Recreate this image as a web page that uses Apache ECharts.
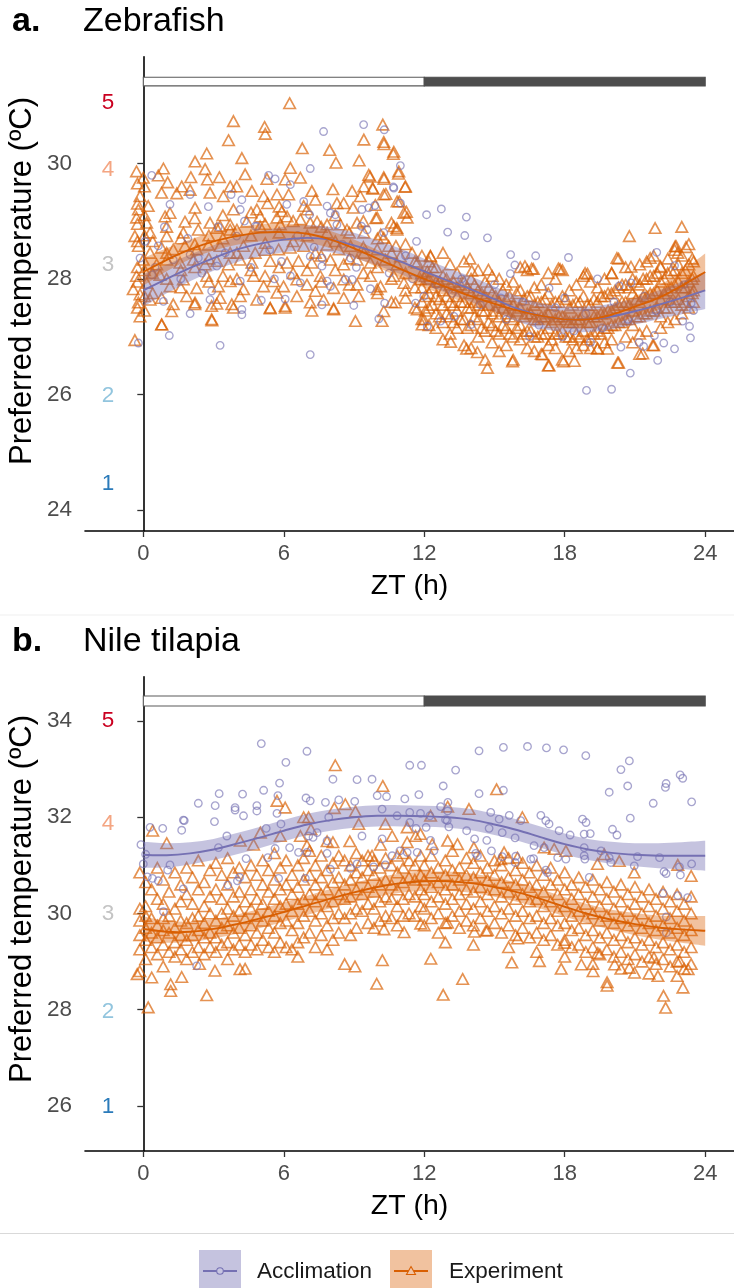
<!DOCTYPE html>
<html>
<head>
<meta charset="utf-8">
<title>Preferred temperature across the day</title>
<script src="https://cdn.jsdelivr.net/npm/echarts@6/dist/echarts.min.js"></script>
<style>
  html, body { margin: 0; padding: 0; background: #ffffff; }
  #chart { width: 734px; height: 1288px; }
</style>
</head>
<body>
<div id="chart"></div>
<script>
// ---------------------------------------------------------------
// Data: ZT (h) vs preferred temperature (ºC)
// Point groups are written as [ZT, temp, temp, ...]
// ---------------------------------------------------------------
const xTicks = [0, 6, 12, 18, 24];
const zfTicks = [24, 26, 28, 30];
const ntTicks = [26, 28, 30, 32, 34];
const fitHours = [0,1,2,3,4,5,6,7,8,9,10,11,12,13,14,15,16,17,18,19,20,21,22,23,24];
const photoPhases = [[0, 12], [12, 24]];          // light, dark
const chamberNames = ['1', '2', '3', '4', '5'];
const zfChamberTemp = [24.45, 25.97, 28.25, 29.88, 31.04];
const ntChamberTemp = [25.98, 27.95, 29.99, 31.87, 34.0];

// Zebrafish – smooth fits and their confidence half-widths
const zfAccFit = [27.8,28.0,28.19,28.36,28.51,28.61,28.68,28.71,28.68,28.58,28.45,28.3,28.13,27.97,27.82,27.65,27.48,27.36,27.3,27.3,27.35,27.44,27.55,27.67,27.8];
const zfAccSe  = [0.28,0.25,0.23,0.22,0.22,0.22,0.22,0.22,0.22,0.22,0.22,0.22,0.22,0.22,0.22,0.22,0.22,0.22,0.22,0.22,0.22,0.23,0.25,0.28,0.32];
const zfExpFit = [28.12,28.33,28.51,28.65,28.74,28.8,28.81,28.78,28.68,28.53,28.35,28.17,28.0,27.85,27.7,27.57,27.45,27.36,27.3,27.3,27.38,27.52,27.67,27.88,28.12];
const zfExpSe  = [0.24,0.2,0.17,0.16,0.15,0.15,0.15,0.15,0.15,0.15,0.15,0.15,0.15,0.15,0.15,0.15,0.15,0.15,0.15,0.15,0.16,0.18,0.21,0.26,0.32];

// Nile tilapia – smooth fits and their confidence half-widths
const ntAccFit = [31.22,31.21,31.25,31.33,31.45,31.58,31.72,31.85,31.94,32.0,32.03,32.03,32.02,32.0,31.95,31.85,31.73,31.58,31.44,31.33,31.26,31.22,31.2,31.2,31.2];
const ntAccSe  = [0.27,0.25,0.23,0.22,0.22,0.22,0.22,0.22,0.22,0.22,0.22,0.22,0.22,0.22,0.22,0.22,0.22,0.22,0.22,0.22,0.23,0.24,0.26,0.28,0.31];
const ntExpFit = [29.68,29.62,29.62,29.68,29.78,29.9,30.03,30.17,30.31,30.44,30.55,30.63,30.67,30.67,30.63,30.55,30.44,30.3,30.14,29.99,29.87,29.78,29.71,29.67,29.64];
const ntExpSe  = [0.26,0.23,0.21,0.2,0.2,0.2,0.2,0.2,0.2,0.2,0.2,0.2,0.2,0.2,0.2,0.2,0.2,0.2,0.2,0.2,0.21,0.23,0.25,0.28,0.31];

// Zebrafish – acclimation observations
const zfAcclimation = [
  [0.36,29.79],[1.14,29.29],[2.0,29.46],[2.78,29.25],[3.75,29.46],[4.14,29.2],[4.32,29.0],[4.78,28.91],[5.35,29.79],[5.63,29.73],
  [6.28,29.63],[7.13,29.91],[6.85,29.34],[7.85,29.26],[7.99,29.14],[9.34,29.2],[9.63,29.23],[9.89,29.27],[10.98,29.96],[10.7,29.57],
  [10.98,29.31],[12.1,29.11],[11.67,28.65],[9.32,28.91],[8.27,28.94],[7.1,29.11],[6.13,29.29],[0.07,28.65],[0.64,28.57],[-0.14,28.36],
  [0.36,28.07],[2.35,28.36],[3.14,28.22],[3.99,28.74],[4.14,27.96],[2.92,27.79],[2.85,27.64],[0.86,27.61],[2.0,27.4],[1.11,27.02],
  [-0.21,26.89],[3.28,26.85],[4.21,27.47],[4.21,27.38],[5.04,27.63],[6.06,27.65],[6.28,28.05],[6.71,27.93],[7.13,26.69],[7.63,28.22],
  [7.63,27.55],[7.85,27.96],[7.99,27.87],[8.63,27.99],[8.92,27.99],[9.7,27.83],[8.99,27.54],[10.06,27.31],[10.31,27.58],[11.63,27.58],
  [11.98,27.7],[7.13,28.39],[7.63,28.36],[8.85,28.36],[9.56,28.85],[8.2,29.11],[10.27,28.8],[2.0,28.42],[1.28,28.33],[4.85,28.91],
  [4.21,29.37],[7.7,30.55],[9.41,30.67],[10.29,30.58],[10.68,29.59],[0.5,28.2],[1.6,28.0],[2.5,28.1],[3.5,28.45],[4.6,28.2],
  [5.4,28.5],[5.9,28.3],[6.6,28.75],[7.3,28.55],[8.5,28.6],[9.1,28.2],[10.5,28.1],[11.2,28.4],[11.5,28.0],[1.9,28.7],
  [3.2,28.9],[5.6,28.0],[0.9,28.9],
  [12.73,29.21],[13.8,29.07],[13.0,28.81],[13.73,28.75],[14.7,28.71],[15.69,28.42],[16.76,28.4],[15.87,28.24],[15.68,28.09],[18.16,28.37],
  [19.4,28.0],[21.93,28.46],[22.69,28.23],[20.83,27.93],[23.4,27.58],[23.33,27.18],[23.37,26.98],[23.04,27.27],[22.69,26.79],[21.97,26.59],
  [22.23,26.89],[21.83,27.02],[21.37,26.83],[21.18,26.9],[20.8,26.37],[18.93,26.07],[20.0,26.09],[20.4,26.82],[20.33,27.88],[18.0,27.67],
  [17.33,27.84],[14.0,27.21],[13.27,27.35],[12.7,27.27],[12.13,27.18],[15.27,27.67],[12.5,27.9],[13.2,27.75],[13.6,28.0],[14.4,27.55],
  [15.0,27.9],[15.5,27.3],[16.2,27.6],[16.9,27.2],[17.6,27.5],[18.4,27.1],[18.9,27.4],[19.6,27.15],[20.1,27.6],[20.7,27.3],
  [21.4,27.7],[21.9,27.45],[22.5,27.6],[23.1,27.9],[23.5,27.45],[16.5,27.0],[17.9,27.0],[19.1,26.9]
];

// Zebrafish – experiment observations
const zfExperiment = [
  [6.25,31.04],[3.85,30.73],[5.18,30.63],[5.21,30.51],[3.64,30.4],[9.42,30.41],[10.23,30.67],[10.27,30.37],[10.7,30.2],[6.79,30.26],
  [7.96,30.23],[2.71,30.17],[4.21,30.09],[8.23,30.01],[9.22,30.05],[2.21,30.03],[10.91,29.86],[-0.29,29.86],[0.86,29.91],[6.28,29.92],
  [2.64,29.9],[9.63,29.8],[10.28,30.33],[10.68,30.16],[9.69,29.77],[10.28,29.73],[10.9,29.82],[9.79,29.57],[10.36,29.47],[11.18,29.59],
  [10.93,29.34],[11.24,29.16],[9.93,29.05],[10.6,28.97],[10.83,28.88],[10.14,28.77],[10.79,28.57],
  [0.0,29.75],[0.64,29.79],[1.04,29.67],[1.64,29.6],[2.03,29.76],[2.74,29.72],[3.25,29.76],[3.71,29.6],[3.99,29.6],[4.35,29.81],
  [5.28,29.73],[6.06,29.72],[6.71,29.75],[7.2,29.52],[8.1,29.55],[8.92,29.52],[9.42,29.6],[9.81,29.56],[10.27,29.76],[11.2,29.6],
  [-0.14,29.43],[0.78,29.49],[1.43,29.48],[2.0,29.54],[2.85,29.49],[3.42,29.43],[4.64,29.52],[5.14,29.43],[5.71,29.46],[6.21,29.46],
  [7.35,29.37],[8.56,29.31],[9.27,29.43],[10.27,29.46],[10.84,29.34],
  [-0.21,29.2],[0.21,29.26],[1.14,29.14],[2.21,29.23],[3.85,29.2],[4.85,29.2],[5.31,29.31],[5.92,29.17],[6.85,29.26],[8.27,29.31],
  [8.96,29.23],[9.91,29.28],[11.13,29.14],
  [-0.29,29.06],[0.14,28.97],[0.93,29.08],[1.78,28.99],[2.85,28.97],[3.28,28.91],[3.71,28.94],[4.42,28.99],[4.99,29.08],[5.71,29.06],
  [6.14,29.08],[6.71,29.03],[7.42,28.99],[7.85,28.94],[8.42,28.94],[9.13,28.97],[9.99,29.06],[10.7,28.91],[11.27,29.06],
  [-0.36,28.74],[0.29,28.8],[1.0,28.74],[1.71,28.8],[2.35,28.85],[3.14,28.88],[3.71,28.85],[4.99,28.91],[5.85,28.94],[7.13,28.97],
  [7.85,28.8],[8.7,28.85],[9.42,28.8],[10.27,28.71],[10.84,28.85],
  [-0.21,28.57],[0.29,28.45],[0.78,28.54],[1.28,28.51],[1.78,28.57],[2.28,28.51],[2.78,28.59],[3.28,28.57],[3.71,28.45],[4.28,28.57],
  [4.78,28.45],[5.21,28.62],[5.78,28.51],[6.28,28.54],[6.85,28.57],[7.35,28.45],[7.85,28.59],[8.35,28.51],[8.85,28.57],[9.42,28.45],
  [9.99,28.51],[10.48,28.57],[10.98,28.39],[11.48,28.45],
  [0.0,28.33],[0.57,28.25],[1.0,28.33],[1.57,28.28],[2.14,28.33],[2.64,28.25],[3.14,28.31],[3.64,28.25],[4.14,28.33],[4.64,28.28],
  [5.42,28.31],[6.14,28.28],[6.63,28.31],[7.2,28.28],[7.99,28.33],[8.56,28.25],[9.13,28.33],[9.7,28.28],[10.34,28.33],[10.84,28.25],
  [11.7,28.28],
  [-0.29,28.05],[0.14,27.93],[0.71,28.07],[1.14,27.87],[1.71,27.99],[2.28,27.84],[2.71,28.05],[3.21,27.87],[3.71,27.96],[4.28,27.82],
  [4.71,28.05],[5.14,27.87],[5.56,27.96],[5.99,27.87],[6.56,27.99],[6.99,27.9],[7.56,28.05],[8.13,27.84],[8.56,27.99],[9.13,27.9],
  [9.7,28.05],[10.13,27.87],[10.7,28.05],[11.13,27.93],[11.84,27.99],[12.13,28.13],[-0.43,27.82],
  [-0.14,27.73],[-0.21,27.59],[0.29,27.64],[0.78,27.67],[1.28,27.56],[1.85,27.7],[2.21,27.59],[2.92,27.53],[3.28,27.67],[3.78,27.56],
  [4.14,27.7],[4.85,27.64],[5.42,27.5],[5.71,27.76],[6.06,27.53],[6.56,27.7],[7.13,27.59],[7.35,27.79],[7.7,27.64],[8.13,27.49],
  [8.56,27.67],[9.2,27.7],[9.99,27.82],[10.27,27.44],[10.77,27.59],[11.2,27.67],[11.7,27.47],[11.98,27.3],[11.91,27.21],[-0.14,27.35],
  [0.78,27.21],[1.21,27.44],[2.92,27.3],[9.06,27.27],[10.2,27.27],[-0.36,26.94],[0.79,27.21],[2.93,27.28],[5.42,27.49],[6.06,27.5],
  [7.2,27.45],[8.13,27.47],[3.85,27.5],[2.2,27.56],[3.14,27.57],
  [-0.25,29.65,29.3,28.95,28.65,28.2,27.95,27.5],[0.05,29.6,29.1,28.75,28.15,27.7,27.45],
  [0.4,28.65,28.1,27.75],[1.0,28.9,28.45,28.0],[1.6,28.7,28.15,27.85],[2.2,29.05,28.6,28.2],[2.8,28.75,28.35,27.95],
  [3.4,29.1,28.7,28.05],[4.0,28.85,28.45,28.0],[4.6,29.15,28.75,28.15],[5.2,28.95,28.5,28.05],[5.8,29.25,28.8,28.2],
  [6.4,29.0,28.65,28.1],[7.0,29.2,28.75,28.15],[7.6,28.9,28.4,27.95],[8.2,29.1,28.65,28.15],[8.8,28.8,28.35,27.9],
  [9.4,29.0,28.55,28.1],[10.0,28.7,28.2,27.75],[10.6,28.45,28.0,27.6],[11.2,28.6,28.1,27.8],[11.6,28.3,27.85,27.5],
  [11.9,28.4,28.1,27.85,27.6,27.3],[12.2,28.3,28.0,27.75,27.5,27.2],[12.5,28.2,27.95,27.7,27.4,27.15],[12.8,28.45,28.05,27.8,27.55,27.25,26.95],
  [13.1,28.25,27.9,27.6,27.35,27.05],[13.4,28.1,27.85,27.7,27.45,27.15],[13.7,28.3,27.95,27.6,27.3,26.85],[14.0,28.0,27.75,27.5,27.2,26.8],
  [14.3,28.15,27.8,27.55,27.3,27.0],[14.6,27.95,27.7,27.45,27.1,26.6],[14.9,28.05,27.75,27.4,27.2,26.9],[15.2,28.0,27.6,27.35,27.05,26.75],
  [15.5,27.9,27.65,27.4,27.15,26.85],[15.8,27.95,27.55,27.3,27.0,26.6],[16.1,28.2,27.8,27.5,27.2,26.95],[16.4,28.15,27.7,27.4,27.1,26.8],
  [16.7,27.85,27.55,27.3,27.0,26.75],[17.0,27.9,27.6,27.35,27.05,26.7],[17.3,28.1,27.75,27.4,27.15,26.85,26.5],[17.6,28.0,27.6,27.3,27.05,26.8],
  [17.9,28.15,27.7,27.35,27.1,26.6],[18.2,27.8,27.5,27.25,27.0,26.75],[18.5,27.9,27.6,27.3,27.05,26.8],[18.8,28.05,27.7,27.4,27.1,26.85],
  [19.1,27.95,27.55,27.25,27.0,26.8],[19.4,27.85,27.6,27.35,27.1,26.8],[19.7,28.0,27.7,27.4,27.15,26.9],[20.0,28.1,27.75,27.45,27.2,26.95],
  [20.3,28.35,27.85,27.55,27.25,26.55],[20.6,28.2,27.9,27.6,27.3,27.0],[20.9,28.0,27.75,27.45,27.2,26.9],[21.2,28.25,27.9,27.6,27.35,27.05,26.7],
  [21.5,28.3,28.0,27.7,27.4,27.1],[21.8,28.4,28.05,27.75,27.45,26.85],[22.1,28.2,27.95,27.65,27.35,27.15],[22.4,28.35,28.1,27.8,27.5,27.25],
  [22.7,28.5,28.15,27.9,27.6,27.3],[23.0,28.4,28.1,27.85,27.55,27.4],[23.3,28.6,28.25,27.95,27.7,27.5],[23.5,28.3,28.05,27.8,27.6],
  [12.05,28.05,27.7,27.45],[12.35,28.2,27.85,27.55],[12.65,27.95,27.65,27.35],[12.95,28.0,27.7,27.4],[13.25,27.95,27.55,27.25],
  [13.55,27.9,27.6,27.3],[13.85,27.85,27.5,27.15],[14.15,27.9,27.6,27.35],[14.45,27.75,27.45,27.15],[14.75,27.85,27.55,27.25],
  [15.05,27.7,27.45,27.1],[15.35,27.8,27.5,27.2],[15.65,27.7,27.35,27.05],[15.95,27.75,27.45,27.15],[16.25,27.65,27.35,27.05],
  [16.55,27.7,27.4,27.1],[16.85,27.6,27.3,27.0],[17.15,27.65,27.35,27.05],[17.45,27.55,27.25,26.95],[17.75,27.6,27.35,27.05],
  [18.05,27.65,27.3,27.0],[18.35,27.55,27.25,26.95],[18.65,27.6,27.3,27.0],[18.95,27.55,27.25,26.95],[19.25,27.65,27.35,27.05],
  [19.55,27.7,27.4,27.05],[19.85,27.75,27.45,27.15],[20.15,27.8,27.5,27.2],[20.45,27.9,27.6,27.25],[20.75,27.85,27.55,27.3],
  [21.05,27.95,27.65,27.35],[21.35,28.0,27.7,27.4],[21.65,28.05,27.75,27.45],[21.95,28.1,27.8,27.5],[22.25,28.0,27.75,27.5],
  [22.55,28.15,27.85,27.6],[22.85,28.25,27.95,27.65],[23.15,28.15,27.85,27.6],[23.45,28.35,28.0,27.75],
  [20.76,28.74],[21.86,28.88],[23.0,28.9],[22.75,28.57],[23.18,28.55],[21.65,28.36],[20.23,28.36],[20.83,28.21],[13.95,28.35],[12.27,28.39],
  [16.3,28.22],[16.66,28.17],[17.8,28.17],[18.97,28.09],[14.7,26.46],[15.77,26.57],[17.33,26.5],[17.95,26.57],[18.41,26.58],[20.26,26.55],
  [14.27,26.73],[13.81,26.79],[13.13,26.91],[21.33,26.71],[21.76,26.85],[17.05,26.69],[19.4,26.79],[19.83,26.79],[12.26,28.4],[14.03,28.14],
  [14.74,28.16],[16.59,28.18],[17.73,28.18],[18.87,28.1],[20.01,28.1],[22.08,28.22],[22.83,28.45],[22.71,28.56]
];

// Nile tilapia – acclimation observations
const ntAcclimation = [
  [5.04,33.53],[6.99,33.37],[6.09,33.14],[11.38,33.08],[11.88,33.08],[8.1,32.79],[9.13,32.78],[9.77,32.79],[5.82,32.71],[5.14,32.56],
  [3.24,32.49],[4.24,32.48],[2.35,32.29],[3.07,32.24],[3.92,32.2],[4.85,32.24],[5.75,32.45],[6.95,32.4],[7.13,32.34],[7.78,32.31],
  [8.35,32.36],[9.03,32.33],[9.99,32.45],[10.39,32.43],[11.17,32.38],[11.77,32.47],[1.71,31.94],[1.75,31.93],[3.04,31.91],[4.28,32.03],
  [4.85,32.13],[5.71,32.08],[3.92,32.15],[0.29,31.79],[0.83,31.77],[1.64,31.73],[5.25,31.77],[5.88,31.86],[7.92,32.0],[10.2,32.17],
  [10.84,32.03],[11.38,32.1],[11.84,32.08],[-0.1,31.43],[0.1,31.23],[0.0,31.03],[1.14,31.01],[1.04,30.9],[0.17,30.76],[0.39,30.73],
  [0.64,30.68],[1.71,30.51],[0.86,30.04],[2.28,28.91],[3.21,31.37],[3.61,30.59],[4.02,30.68],[4.39,31.14],[5.63,31.35],[6.25,31.37],
  [6.63,31.27],[7.06,31.61],[7.25,31.58],[7.85,31.51],[6.99,31.27],[7.85,31.25],[7.42,31.68],[9.34,31.61],[10.2,31.55],[10.63,31.2],
  [10.34,31.01],[9.84,30.97],[9.13,31.03],[8.85,30.94],[7.99,30.92],[6.92,30.73],[5.78,30.73],[5.32,31.16],[3.57,31.61],[4.11,30.75],
  [10.96,31.3],[11.27,31.27],[11.7,31.27],[12.08,31.79],[11.65,31.77],[11.38,31.89],
  [14.34,33.38],[15.38,33.45],[16.41,33.47],[17.22,33.44],[17.95,33.4],[18.9,33.28],[20.76,33.17],[20.4,32.99],[13.34,32.98],[12.81,32.65],
  [14.34,32.49],[15.38,32.56],[20.69,32.65],[19.9,32.52],[22.33,32.7],[22.3,32.62],[22.93,32.88],[23.04,32.81],[21.78,32.29],[23.42,32.32],
  [20.8,31.98],[13.01,32.31],[12.7,32.22],[13.0,32.13],[13.05,31.8],[12.91,31.95],[14.84,32.1],[15.2,31.96],[15.63,32.04],[16.12,31.93],
  [16.98,32.04],[17.19,31.93],[17.33,31.86],[14.77,31.77],[15.33,31.68],[15.88,31.57],[13.81,31.72],[14.15,31.55],[14.67,31.52],[17.76,31.72],
  [18.23,31.63],[18.76,31.96],[18.91,31.89],[19.09,31.66],[18.83,31.65],[20.04,31.75],[20.23,31.63],[16.69,31.41],[17.12,31.37],[15.91,31.19],
  [16.67,31.14],[17.7,31.16],[18.83,31.37],[18.83,31.2],[15.33,31.18],[14.2,31.25],[14.87,31.3],[14.27,31.2],[15.88,31.06],[18.05,31.13],
  [19.9,31.16],[19.97,31.06],[20.97,30.99],[21.11,31.18],[22.05,31.16],[22.24,30.87],[22.33,30.83],[22.94,30.8],[23.42,31.03],[22.9,30.97],
  [17.19,30.9],[17.26,30.85],[19.05,30.75],[19.55,31.3],[18.86,31.13],[22.2,30.42],[22.83,30.37],[23.25,30.33],[22.34,29.93],[22.34,29.6],
  [12.24,32.03],[12.98,31.93],[12.41,31.3],[12.27,31.52],[16.55,31.13]
];

// Nile tilapia – experiment observations
const ntExperiment = [
  [8.2,33.08],[10.23,32.65],[5.71,32.34],[6.06,32.2],[8.16,32.19],[8.63,32.27],[9.06,32.12],[9.2,31.86],[6.85,32.0],[7.06,32.0],
  [5.0,31.68],[5.85,31.61],[4.14,31.51],[4.71,31.43],[7.16,31.75],[6.71,31.61],[6.99,31.41],[8.1,31.48],[8.82,31.5],[10.34,31.86],
  [11.27,31.79],[11.63,31.61],[10.63,31.61],[9.77,31.2],[10.13,31.43],[11.27,31.48],[11.84,31.65],[0.4,31.72],[1.0,31.46],
  [0.21,28.05],[1.17,28.39],[1.17,28.53],[2.71,28.3],[1.64,28.68],[0.36,28.67],[-0.26,28.74],[4.13,28.84],[3.06,28.81],[9.04,28.9],
  [9.97,28.54],[10.21,29.03],[2.4,28.95],[6.6,29.1],[8.6,28.95],
  [-0.15,30.85,30.1,29.85,29.55,29.25,28.8],[0.1,30.65,30.15,29.95,29.7,29.45,29.05],[0.35,30.5,29.9,29.6,29.3],
  [0.6,30.95,30.3,29.75,29.5,29.15],[0.85,30.7,30.2,29.9,29.65,29.35,28.9],[1.1,30.45,29.95,29.6,29.2],
  [1.35,30.85,30.1,29.7,29.4,29.1],[1.6,30.6,30.25,29.85,29.55,29.25],[1.85,30.95,30.4,29.8,29.45,29.05],
  [2.1,30.75,30.2,29.9,29.55,29.2],[2.35,31.1,30.5,29.95,29.65,29.3],[2.6,30.65,30.15,29.8,29.5,29.15],
  [2.85,30.9,30.35,30.0,29.6,29.3],[3.1,31.05,30.5,29.85,29.5,29.2],[3.35,30.8,30.3,30.0,29.7,29.35],
  [3.6,31.15,30.6,30.1,29.75,29.4,29.05],[3.85,30.85,30.35,29.95,29.6,29.25],[4.1,30.95,30.45,30.05,29.7,29.35],
  [4.35,30.75,30.25,29.9,29.55,29.2,28.85],[4.6,31.0,30.5,30.1,29.75,29.35],[4.85,30.8,30.3,29.95,29.6,29.25],
  [5.1,31.1,30.6,30.2,29.85,29.45],[5.35,30.9,30.45,30.05,29.7,29.3],[5.6,31.25,30.7,30.3,29.95,29.6,29.2],
  [5.85,30.95,30.5,30.15,29.8,29.4],[6.1,31.1,30.6,30.2,29.85,29.3],[6.35,30.8,30.4,30.05,29.65,29.25],
  [6.6,31.0,30.55,30.2,29.8,29.4],[6.85,31.15,30.7,30.3,29.95,29.5],[7.1,31.3,30.8,30.4,30.05,29.6],
  [7.35,31.0,30.6,30.25,29.85,29.3],[7.6,31.2,30.75,30.4,30.0,29.55],[7.85,31.5,30.9,30.5,30.15,29.75,29.25],
  [8.1,31.05,30.65,30.25,29.9,29.45],[8.35,31.2,30.75,30.4,30.0,29.6],[8.6,31.1,30.6,30.3,29.9],
  [8.85,31.0,30.7,30.35,30.0,29.55],[9.1,31.25,30.85,30.5,30.1,29.7],[9.35,31.1,30.75,30.4,30.05],
  [9.6,31.2,30.9,30.55,30.2,29.8],[9.85,31.1,30.8,30.45,30.1,29.7],[10.1,30.95,30.6,30.25,29.85],
  [10.35,31.15,30.7,30.35,29.95],[10.6,31.0,30.6,30.3,29.9],[10.85,31.2,30.85,30.5,30.15,29.75],
  [11.1,31.25,30.95,30.65,30.3,29.95],[11.35,31.1,30.75,30.4,30.0],[11.6,31.0,30.7,30.35,29.95],[11.85,31.2,30.8,30.5,30.15],
  [12.0,31.0,30.7,30.4,30.1,29.75],[12.3,31.2,30.85,30.55,30.25,29.9],[12.6,30.95,30.65,30.35,30.0,29.6],
  [12.9,31.1,30.8,30.5,30.2,29.8,29.4],[13.2,31.3,30.9,30.6,30.3,29.95],[13.5,30.95,30.7,30.4,30.05,29.7],
  [13.8,31.15,30.8,30.5,30.2,29.85],[14.1,31.05,30.75,30.45,30.1,29.75,29.35],[14.4,31.2,30.85,30.55,30.25,29.9],
  [14.7,30.95,30.7,30.4,30.05,29.65],[15.0,31.1,30.8,30.5,30.15,29.8],[15.3,31.0,30.65,30.35,30.0,29.6],
  [15.6,31.15,30.75,30.45,30.1,29.75,29.3],[15.9,30.9,30.6,30.3,29.95,29.55],[16.2,31.05,30.7,30.4,30.05,29.7],
  [16.5,30.85,30.55,30.25,29.9,29.5],[16.8,31.0,30.6,30.3,29.95,29.6,29.2],[17.1,30.8,30.45,30.15,29.8,29.45],
  [17.4,30.95,30.6,30.25,29.9,29.55],[17.7,30.7,30.4,30.05,29.75,29.35],[18.0,30.85,30.5,30.15,29.8,29.45,29.1],
  [18.3,30.6,30.3,29.95,29.65,29.3],[18.6,30.75,30.4,30.05,29.7,29.35],[18.9,30.55,30.2,29.9,29.55,29.2],
  [19.2,30.7,30.35,30.0,29.65,29.3,28.95],[19.5,30.5,30.15,29.85,29.5,29.15],[19.8,30.65,30.3,29.95,29.6,29.25],
  [20.1,30.45,30.1,29.8,29.45,29.1],[20.4,30.6,30.25,29.9,29.55,29.2,28.85],[20.7,30.4,30.05,29.75,29.4,29.05],
  [21.0,30.55,30.2,29.85,29.5,29.15],[21.3,30.35,30.0,29.7,29.35,29.0],[21.6,30.5,30.15,29.8,29.45,29.1,28.75],
  [21.9,30.3,29.95,29.65,29.3,28.95],[22.2,30.45,30.1,29.75,29.4,29.05],[22.5,30.25,29.9,29.6,29.25,28.9],
  [22.8,30.4,30.05,29.7,29.35,29.0,28.7],[23.1,30.2,29.85,29.55,29.2,28.85],[23.4,30.35,30.0,29.65,29.3,28.95],
  [12.28,29.06],[12.81,28.31],[13.64,28.64],[15.74,28.98],[16.92,29.01],[17.85,28.85],[18.71,28.94],[19.21,28.8],[19.81,28.5],[19.81,28.57],
  [20.13,28.94],[20.76,28.87],[20.98,28.77],[21.98,28.7],[22.22,28.29],[22.31,28.04],[23.05,28.46],[23.27,28.84],[22.91,29.01],[21.81,29.08],
  [19.41,29.18],[17.99,29.39],[15.99,29.48],[14.64,29.64],[11.14,29.61],[10.28,29.67],[14.14,29.62],[11.85,29.79],[12.99,29.81],
  [15.09,32.58],[12.27,32.03],[13.0,32.22],[13.91,32.17],[16.19,32.0],[18.05,31.3],[19.69,31.23],[22.83,31.01],[23.4,30.78],[20.97,30.85],
  [20.33,31.09],[19.4,31.03],[17.55,31.34],[17.12,31.37],[15.98,31.16],[15.41,31.27],[14.12,31.37],[13.42,31.44],[13.0,31.51],[12.34,31.44],
  [15.27,31.13]
];

// ---------------------------------------------------------------
// Drawing
// ---------------------------------------------------------------
const FONT = '"Liberation Sans", Arial, Helvetica, sans-serif';
const ACC = '#7570B3';
const EXP = '#D95F02';
const ACC_PT = 'rgba(117,112,179,0.8)';
const EXP_PT = 'rgba(217,95,2,0.85)';
const ACC_BAND = 'rgba(117,112,179,0.42)';
const EXP_BAND = 'rgba(217,95,2,0.38)';
const chamberColors = ['#2B7BBA', '#92C5DE', '#C4C4C4', '#F4A582', '#CA0020'];

function toPoints(groups) {
  const out = [];
  groups.forEach(g => { for (let i = 1; i < g.length; i++) out.push([g[0], g[i]]); });
  return out;
}

// Catmull-Rom through screen points, written as cubic Bezier segments
function curveSegments(pts) {
  let d = '';
  for (let i = 0; i < pts.length - 1; i++) {
    const p0 = pts[i - 1] || pts[i], p1 = pts[i], p2 = pts[i + 1], p3 = pts[i + 2] || pts[i + 1];
    const c1 = [p1[0] + (p2[0] - p0[0]) / 6, p1[1] + (p2[1] - p0[1]) / 6];
    const c2 = [p2[0] - (p3[0] - p1[0]) / 6, p2[1] - (p3[1] - p1[1]) / 6];
    d += ' C' + c1[0].toFixed(2) + ' ' + c1[1].toFixed(2) + ' ' + c2[0].toFixed(2) + ' ' + c2[1].toFixed(2) +
         ' ' + p2[0].toFixed(2) + ' ' + p2[1].toFixed(2);
  }
  return d;
}

function axesFor(g, yMin, yMax, yTicks) {
  const x = {
    gridIndex: g, type: 'value', min: -2.49, max: 25.23,
    axisLine: { lineStyle: { color: '#000', width: 1.6 } },
    axisTick: { customValues: xTicks, length: 6, lineStyle: { color: '#333', width: 1.3 } },
    axisLabel: { customValues: xTicks, color: '#4d4d4d', fontSize: 22, fontFamily: FONT, margin: 12 },
    splitLine: { show: false },
    name: 'ZT (h)', nameLocation: 'middle', nameGap: 41,
    nameTextStyle: { color: '#000', fontSize: 28.5, fontFamily: FONT }
  };
  const y = {
    gridIndex: g, type: 'value', min: yMin, max: yMax,
    axisLine: { lineStyle: { color: '#000', width: 1.6 } },
    axisTick: { customValues: yTicks, length: 6, lineStyle: { color: '#333', width: 1.3 } },
    axisLabel: { customValues: yTicks, color: '#4d4d4d', fontSize: 22.5, fontFamily: FONT, margin: 13 },
    splitLine: { show: false }
  };
  return [x, y];
}

// confidence ribbon: fit ± half-width, drawn as one closed smooth path
function bandSeries(g, fit, se, color) {
  return { type: 'custom', xAxisIndex: g, yAxisIndex: g, silent: true, z: 3, data: [0],
    renderItem: (params, api) => {
      const upper = fitHours.map((h, i) => api.coord([h, fit[i] + se[i]]));
      const lower = fitHours.map((h, i) => api.coord([h, fit[i] - se[i]])).reverse();
      const d = 'M' + upper[0][0] + ' ' + upper[0][1] + curveSegments(upper) +
                ' L' + lower[0][0] + ' ' + lower[0][1] + curveSegments(lower) + ' Z';
      return { type: 'path', shape: { pathData: d }, style: { fill: color, stroke: null } };
    } };
}

function fitLine(g, fit, color) {
  return { type: 'custom', xAxisIndex: g, yAxisIndex: g, silent: true, z: 4, data: [0],
    renderItem: (params, api) => {
      const pts = fitHours.map((h, i) => api.coord([h, fit[i]]));
      const d = 'M' + pts[0][0] + ' ' + pts[0][1] + curveSegments(pts);
      return { type: 'path', shape: { pathData: d }, style: { fill: null, stroke: color, lineWidth: 1.9 } };
    } };
}

function pointSeries(g, groups, symbol, size, color, width) {
  return { type: 'scatter', xAxisIndex: g, yAxisIndex: g, symbol: symbol, symbolSize: size,
           silent: true, z: 2, data: toPoints(groups),
           itemStyle: { color: 'rgba(0,0,0,0)', borderColor: color, borderWidth: width } };
}

function phaseBar(g, yLow, yHigh) {
  return { type: 'custom', xAxisIndex: g, yAxisIndex: g, silent: true, z: 5, data: photoPhases,
    renderItem: (params, api) => {
      const a = api.coord([api.value(0), yHigh]);
      const b = api.coord([api.value(1), yLow]);
      const light = params.dataIndex === 0;
      return { type: 'rect', shape: { x: a[0], y: a[1], width: b[0] - a[0], height: b[1] - a[1] },
               style: { fill: light ? '#ffffff' : '#4d4d4d', stroke: light ? '#5a5a5a' : '#4d4d4d', lineWidth: 1.1 } };
    } };
}

function chamberSeries(g, temps) {
  return { type: 'custom', xAxisIndex: g, yAxisIndex: g, silent: true, z: 5,
    data: temps.map(t => [-1.51, t]),
    renderItem: (params, api) => {
      const p = api.coord([api.value(0), api.value(1)]);
      return { type: 'text', x: p[0], y: p[1],
               style: { text: chamberNames[params.dataIndex], fill: chamberColors[params.dataIndex],
                        font: '22.5px ' + FONT, align: 'center', verticalAlign: 'middle' } };
    } };
}

const [zfX, zfY] = axesFor(0, 23.637, 31.845, zfTicks);
const [ntX, ntY] = axesFor(1, 25.065, 34.92, ntTicks);

const series = [
  pointSeries(0, zfExperiment, 'triangle', [11.5, 10.5], EXP_PT, 1.65),
  pointSeries(0, zfAcclimation, 'circle', 7.5, ACC_PT, 1.35),
  bandSeries(0, zfAccFit, zfAccSe, ACC_BAND),
  bandSeries(0, zfExpFit, zfExpSe, EXP_BAND),
  fitLine(0, zfAccFit, ACC),
  fitLine(0, zfExpFit, EXP),
  phaseBar(0, 31.34, 31.49),
  chamberSeries(0, zfChamberTemp),

  pointSeries(1, ntExperiment, 'triangle', [11.5, 10.5], EXP_PT, 1.65),
  pointSeries(1, ntAcclimation, 'circle', 7.5, ACC_PT, 1.35),
  bandSeries(1, ntAccFit, ntAccSe, ACC_BAND),
  bandSeries(1, ntExpFit, ntExpSe, EXP_BAND),
  fitLine(1, ntAccFit, ACC),
  fitLine(1, ntExpFit, EXP),
  phaseBar(1, 34.31, 34.52),
  chamberSeries(1, ntChamberTemp)
];

const yName = 'Preferred temperature (ºC)';
const graphic = [
  // panel headings
  { type: 'text', left: 12, top: 5, style: { text: 'a.', font: 'bold 34px ' + FONT, fill: '#000' } },
  { type: 'text', left: 83, top: 5, style: { text: 'Zebrafish', font: '34px ' + FONT, fill: '#000' } },
  { type: 'text', left: 12, top: 625, style: { text: 'b.', font: 'bold 34px ' + FONT, fill: '#000' } },
  { type: 'text', left: 83, top: 625, style: { text: 'Nile tilapia', font: '34px ' + FONT, fill: '#000' } },
  // y axis titles
  { type: 'text', x: 22, y: 281, rotation: Math.PI / 2,
    style: { text: yName, font: '31px ' + FONT, fill: '#000', align: 'center', verticalAlign: 'middle' } },
  { type: 'text', x: 22, y: 899, rotation: Math.PI / 2,
    style: { text: yName, font: '31px ' + FONT, fill: '#000', align: 'center', verticalAlign: 'middle' } },
  // panel separators
  { type: 'line', shape: { x1: 0, y1: 615, x2: 734, y2: 615 }, style: { stroke: '#efefef', lineWidth: 1 } },
  { type: 'line', shape: { x1: 0, y1: 1233.5, x2: 734, y2: 1233.5 }, style: { stroke: '#d9d9d9', lineWidth: 1 } },
  // legend: Acclimation
  { type: 'rect', shape: { x: 199, y: 1250, width: 42, height: 40 }, style: { fill: ACC_BAND } },
  { type: 'line', shape: { x1: 203, y1: 1271, x2: 237, y2: 1271 }, style: { stroke: ACC, lineWidth: 1.9 } },
  { type: 'circle', shape: { cx: 220, cy: 1271, r: 3.3 }, style: { fill: '#c7c5e1', stroke: ACC, lineWidth: 1.1 } },
  { type: 'text', x: 257, y: 1272, style: { text: 'Acclimation', font: '22.5px ' + FONT, fill: '#1a1a1a', verticalAlign: 'middle' } },
  // legend: Experiment
  { type: 'rect', shape: { x: 390, y: 1250, width: 42, height: 40 }, style: { fill: EXP_BAND } },
  { type: 'line', shape: { x1: 394, y1: 1271, x2: 428, y2: 1271 }, style: { stroke: EXP, lineWidth: 1.9 } },
  { type: 'polygon', shape: { points: [[411, 1266.5], [415.5, 1274.5], [406.5, 1274.5]] },
    style: { fill: '#f1c4a5', stroke: EXP, lineWidth: 1.1 } },
  { type: 'text', x: 449, y: 1272, style: { text: 'Experiment', font: '22.5px ' + FONT, fill: '#1a1a1a', verticalAlign: 'middle' } }
];

const chart = echarts.init(document.getElementById('chart'), null, { renderer: 'canvas' });
chart.setOption({
  animation: false,
  backgroundColor: '#ffffff',
  textStyle: { fontFamily: FONT },
  grid: [
    { left: 85, right: 0, top: 56.7, height: 474.3 },
    { left: 85, right: 0, top: 676.7, height: 474.3 }
  ],
  xAxis: [zfX, ntX],
  yAxis: [zfY, ntY],
  series: series,
  graphic: graphic
});
</script>
</body>
</html>
